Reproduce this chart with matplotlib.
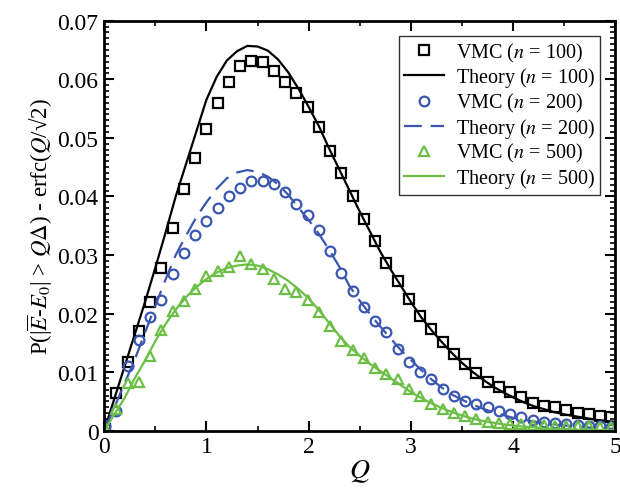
import matplotlib
matplotlib.use("Agg")
import matplotlib.pyplot as plt
from matplotlib.ticker import MultipleLocator

plt.rcParams['font.family'] = ['Liberation Serif', 'DejaVu Serif']
plt.rcParams['mathtext.fontset'] = 'stix'

# VMC sample positions (Q)
q_vmc = [0.01, 0.12, 0.23, 0.34, 0.45, 0.56, 0.67, 0.78, 0.89, 1.00,
         1.11, 1.22, 1.33, 1.44, 1.55, 1.66, 1.77, 1.88, 1.99, 2.10,
         2.21, 2.32, 2.43, 2.54, 2.65, 2.76, 2.87, 2.98, 3.09, 3.20,
         3.31, 3.42, 3.53, 3.64, 3.75, 3.86, 3.97, 4.08, 4.19, 4.30,
         4.41, 4.52, 4.63, 4.74, 4.85, 4.96]

vmc_100 = [0.0003, 0.0064, 0.0117, 0.0171, 0.0220, 0.0278, 0.0346, 0.0412, 0.0465, 0.0516,
           0.0559, 0.0596, 0.0622, 0.0631, 0.0629, 0.0614, 0.0596, 0.0576, 0.0552, 0.0519,
           0.0478, 0.0440, 0.0400, 0.0362, 0.0324, 0.0287, 0.0256, 0.0225, 0.0196, 0.0174,
           0.0151, 0.0131, 0.0114, 0.0098, 0.0084, 0.0074, 0.0066, 0.0057, 0.0048, 0.0043,
           0.0040, 0.0035, 0.0031, 0.0028, 0.0026, 0.0023]

vmc_200 = [0.0009, 0.0034, 0.0111, 0.0155, 0.0194, 0.0223, 0.0267, 0.0303, 0.0335, 0.0358,
           0.0381, 0.0401, 0.0415, 0.0426, 0.0427, 0.0421, 0.0407, 0.0387, 0.0369, 0.0343,
           0.0307, 0.0270, 0.0239, 0.0211, 0.0188, 0.0168, 0.0139, 0.0117, 0.0100, 0.0088,
           0.0072, 0.0060, 0.0051, 0.0046, 0.0040, 0.0034, 0.0028, 0.0023, 0.0019, 0.0015,
           0.0013, 0.0011, 0.0010, 0.0009, 0.0009, 0.0007]

vmc_500 = [0.0004, 0.0037, 0.0082, 0.0083, 0.0128, 0.0172, 0.0205, 0.0221, 0.0242, 0.0265,
           0.0272, 0.0279, 0.0298, 0.0284, 0.0276, 0.0259, 0.0242, 0.0237, 0.0224, 0.0202,
           0.0179, 0.0154, 0.0138, 0.0124, 0.0108, 0.0097, 0.0088, 0.0072, 0.0059, 0.0046,
           0.0037, 0.0031, 0.0026, 0.0020, 0.0015, 0.0013, 0.0011, 0.0011, 0.0010, 0.0010,
           0.0009, 0.0009, 0.0008, 0.0008, 0.0007, 0.0006]

# Theory curves, read at Q = 0.0, 0.1, ..., 5.0
q_th = [0.0, 0.1, 0.2, 0.3, 0.4, 0.5, 0.6, 0.7, 0.8, 0.9,
        1.0, 1.1, 1.2, 1.3, 1.4, 1.5, 1.6, 1.7, 1.8, 1.9,
        2.0, 2.1, 2.2, 2.3, 2.4, 2.5, 2.6, 2.7, 2.8, 2.9,
        3.0, 3.1, 3.2, 3.3, 3.4, 3.5, 3.6, 3.7, 3.8, 3.9,
        4.0, 4.1, 4.2, 4.3, 4.4, 4.5, 4.6, 4.7, 4.8, 4.9, 5.0]

th_100 = [0.0000, 0.0055, 0.0110, 0.0165, 0.0220, 0.0278, 0.0338, 0.0400, 0.0455, 0.0510,
          0.0565, 0.0604, 0.0632, 0.0648, 0.0657, 0.0656, 0.0649, 0.0634, 0.0612, 0.0584,
          0.0553, 0.0520, 0.0482, 0.0446, 0.0410, 0.0374, 0.0340, 0.0306, 0.0276, 0.0248,
          0.0220, 0.0194, 0.0172, 0.0152, 0.0133, 0.0116, 0.0101, 0.0088, 0.0076, 0.0066,
          0.0057, 0.0049, 0.0042, 0.0037, 0.0032, 0.0028, 0.0025, 0.0022, 0.0019, 0.0017, 0.0015]

th_200 = [0.0000, 0.0040, 0.0081, 0.0122, 0.0168, 0.0213, 0.0258, 0.0300, 0.0333, 0.0364,
          0.0390, 0.0413, 0.0431, 0.0441, 0.0445, 0.0442, 0.0434, 0.0421, 0.0403, 0.0381,
          0.0360, 0.0336, 0.0309, 0.0280, 0.0247, 0.0222, 0.0199, 0.0178, 0.0158, 0.0138,
          0.0121, 0.0104, 0.0088, 0.0074, 0.0062, 0.0053, 0.0045, 0.0038, 0.0032, 0.0027,
          0.0022, 0.0019, 0.0016, 0.0013, 0.0011, 0.0009, 0.0008, 0.0006, 0.0005, 0.0004, 0.0003]

th_500 = [0.0000, 0.0028, 0.0056, 0.0090, 0.0120, 0.0153, 0.0182, 0.0207, 0.0228, 0.0245,
          0.0259, 0.0270, 0.0278, 0.0282, 0.0284, 0.0282, 0.0276, 0.0267, 0.0256, 0.0242,
          0.0226, 0.0206, 0.0184, 0.0162, 0.0143, 0.0128, 0.0114, 0.0102, 0.0090, 0.0078,
          0.0066, 0.0056, 0.0047, 0.0039, 0.0032, 0.0026, 0.0021, 0.0017, 0.0014, 0.0011,
          0.0009, 0.0007, 0.0006, 0.0004, 0.0003, 0.0003, 0.0002, 0.0002, 0.0001, 0.0001, 0.0001]

y_ticks = [0, 0.01, 0.02, 0.03, 0.04, 0.05, 0.06, 0.07]
y_ticklabels = ['0', '0.01', '0.02', '0.03', '0.04', '0.05', '0.06', '0.07']

BLACK = '#000000'
BLUE = '#3a56b0'
GREEN = '#6cbf45'

fig = plt.figure(figsize=(6.2, 4.89), dpi=100)
ax = fig.add_axes([0.168, 0.117, 0.8245, 0.8386])

ms = 6.5
ax.plot(q_vmc, vmc_100, ls='none', marker='s', ms=ms, mfc='none', mec=BLACK, mew=1.6,
        label=r'VMC ($n$ = 100)')
ax.plot(q_th, th_100, color=BLACK, lw=1.6, label=r'Theory ($n$ = 100)')
ax.plot(q_vmc, vmc_200, ls='none', marker='o', ms=ms + 0.5, mfc='none', mec=BLUE, mew=1.6,
        label=r'VMC ($n$ = 200)')
ax.plot(q_th, th_200, color=BLUE, lw=1.6, dashes=(8, 4), label=r'Theory ($n$ = 200)')
ax.plot(q_vmc, vmc_500, ls='none', marker='^', ms=ms + 1, mfc='none', mec=GREEN, mew=1.6,
        label=r'VMC ($n$ = 500)')
ax.plot(q_th, th_500, color=GREEN, lw=1.6, label=r'Theory ($n$ = 500)')

ax.set_xlim(0, 5)
ax.set_ylim(0, 0.07)
ax.xaxis.set_major_locator(MultipleLocator(1))
ax.xaxis.set_minor_locator(MultipleLocator(0.5))
ax.set_yticks(y_ticks)
ax.set_yticklabels(y_ticklabels)
ax.yaxis.set_minor_locator(MultipleLocator(0.001))
ax.tick_params(which='both', direction='in', top=True, right=True, labelsize=17, width=1.5)
ax.tick_params(which='major', length=7, pad=4)
ax.tick_params(which='minor', length=3.5, width=1.2)
for s in ax.spines.values():
    s.set_linewidth(2)

ax.set_xlabel(r'$Q$', fontsize=20, labelpad=0)
ax.set_ylabel(r'P(|$\overline{E}$-$E_0$| > $Q\Delta$) - erfc($Q$/√2)', fontsize=16.5, labelpad=2)

leg = ax.legend(loc='upper right', fontsize=14.5, frameon=True, fancybox=False,
                edgecolor='black', borderaxespad=0.75, handlelength=2.0,
                labelspacing=0.08, borderpad=0.25, handletextpad=0.6)
leg.get_frame().set_linewidth(1.0)

fig.savefig('out.png', dpi=100)
